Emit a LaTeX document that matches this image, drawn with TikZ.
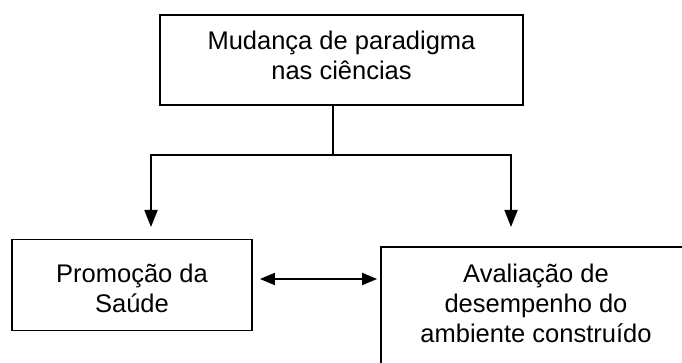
\documentclass[tikz,border=0pt]{standalone}
\usepackage{fontspec}
\setmainfont{Liberation Sans}
\usetikzlibrary{arrows.meta,calc}
\begin{document}
\begin{tikzpicture}[x=1pt,y=-1pt,
  box/.style={draw=black, line width=1.8pt, rectangle, inner sep=0pt},
  txt/.style={align=center, font=\fontsize{25.5}{30}\selectfont, inner sep=0pt},
  conn/.style={line width=1.8pt},
  arr/.style={conn, -{Triangle[length=17pt,width=13pt]}},
  dbl/.style={conn, {Triangle[length=15pt,width=12pt]}-{Triangle[length=15pt,width=12pt]}}]
\clip (0,0) rectangle (682,363);
\fill[white] (0,0) rectangle (682,363);
% boxes
\node[box, minimum width=363pt, minimum height=90pt] (top) at (341.5,60) {};
\node[txt, anchor=base] (toptxt) at (341.5,80) {Mudança de paradigma\\nas ciências};
\node[box, minimum width=240pt, minimum height=91pt] (left) at (132,285) {};
\node[txt, anchor=base] (lefttxt) at (132,312) {Promoção da\\Saúde};
\node[box, minimum width=310pt, minimum height=125pt] (right) at (536,309.5) {};
\node[txt, anchor=base] (righttxt) at (536,342) {Avaliação de\\desempenho do\\ambiente construído};
% connectors
\coordinate (j) at (333,155);
\coordinate (lt) at (151,227);
\coordinate (rt) at (511,227);
\draw[conn] (top.south -| j) -- (j);
\draw[arr] (j) -| (lt);
\draw[arr] (j) -| (rt);
\draw[dbl] ($(left.east)+(7,-6)$) -- ($(left.east -| right.west)+(-3,-6)$);
\end{tikzpicture}
\end{document}
